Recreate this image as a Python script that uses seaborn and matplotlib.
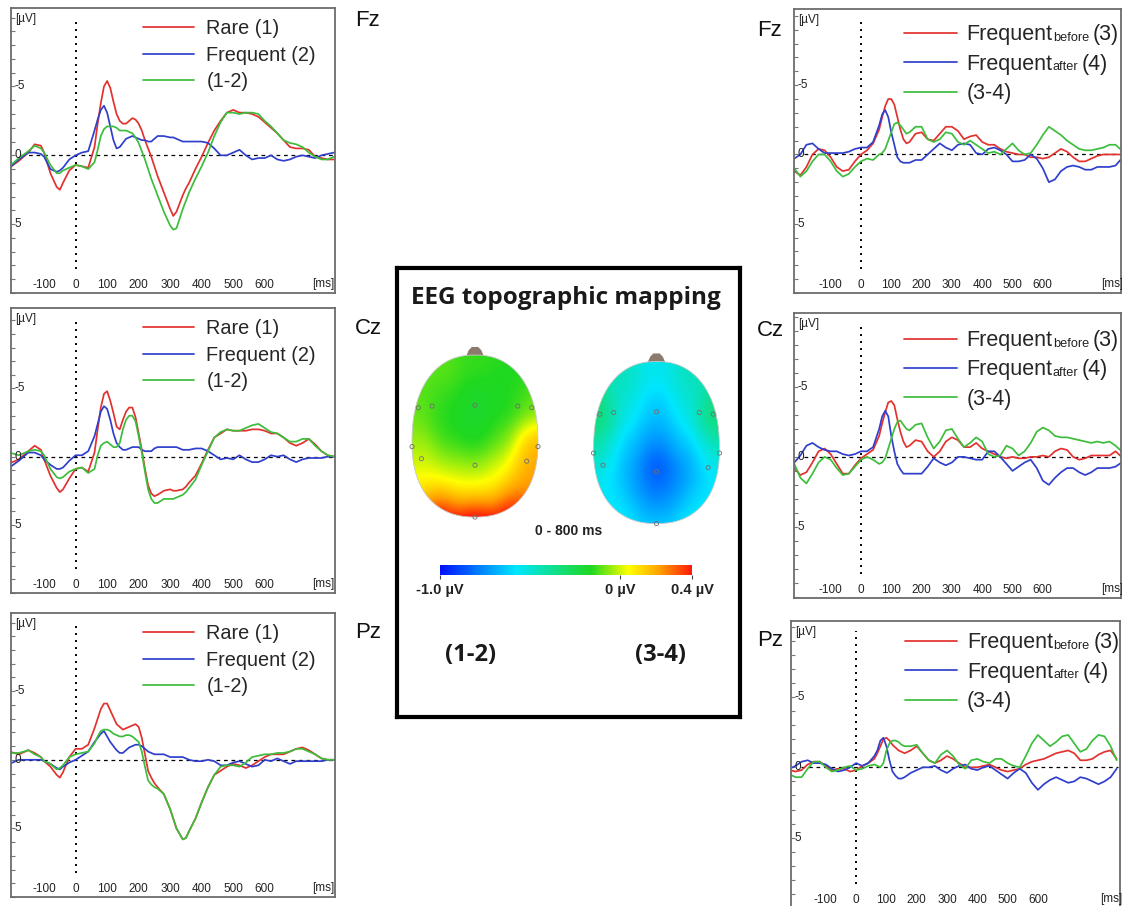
import numpy as np
import matplotlib
matplotlib.use("Agg")
import matplotlib.pyplot as plt
import matplotlib.transforms as mtransforms
from matplotlib.patches import Polygon
from matplotlib.colors import LinearSegmentedColormap
import seaborn as sns

# ---------------- data: time grids ----------------
T_LEFT = [-210, -180, -150, -130, -110, -100, -80, -60, -50, -40, -20, 0, 20, 40, 60, 70, 80, 90,
          100, 110, 120, 130, 140, 150, 160, 170, 180, 190, 200, 210, 220, 230, 240, 250, 260,
          280, 300, 310, 320, 340, 350, 360, 380, 400, 420, 440, 460, 480, 500, 520, 540, 560,
          580, 600, 620, 640, 660, 680, 700, 720, 740, 760, 780, 800, 820]
T_RIGHT = [-220, -200, -180, -160, -140, -120, -100, -80, -60, -40, -20, 0, 20, 40, 60, 70, 80, 90,
           100, 110, 120, 130, 140, 150, 160, 180, 200, 220, 240, 260, 280, 300, 320, 340, 360,
           380, 400, 420, 440, 460, 480, 500, 520, 540, 560, 580, 600, 620, 640, 660, 680, 700,
           720, 740, 760, 780, 800, 820, 840, 860]

# ---------------- left column: Rare (1), Frequent (2), (1-2) ----------------
FZ_RARE = [0.9, 0.4, -0.2, -0.8, -0.7, -0.2, 1.3, 2.3, 2.5, 2.0, 1.1, 0.7, 0.8, 0.9, -0.6, -2.3, -3.8, -5.0,
           -5.4, -4.9, -3.9, -3.0, -2.5, -2.3, -2.3, -2.5, -2.7, -2.6, -2.3, -1.8, -1.1, -0.5, 0.1, 0.8, 1.5,
           2.7, 3.9, 4.4, 4.1, 2.9, 2.4, 2.0, 1.0, 0.1, -0.9, -1.8, -2.5, -3.1, -3.3, -3.1, -3.1, -3.0,
           -2.8, -2.4, -2.0, -1.6, -1.1, -0.6, -0.5, -0.5, -0.4, 0.1, 0.2, 0.3, 0.3]
FZ_FREQ = [0.9, 0.3, -0.2, -0.2, -0.1, 0.1, 1.0, 1.2, 1.1, 0.9, 0.3, 0.0, -0.2, -0.3, -1.8, -2.6, -3.3, -3.6,
           -3.1, -2.1, -1.1, -0.5, -0.6, -0.9, -1.2, -1.3, -1.4, -1.3, -1.2, -1.1, -1.1, -1.0, -1.0, -1.2, -1.4,
           -1.4, -1.3, -1.3, -1.2, -1.0, -1.0, -1.0, -1.0, -1.0, -0.9, -0.5, 0.0, 0.0, -0.2, -0.4, 0.0, 0.3,
           0.2, 0.2, 0.0, 0.3, 0.4, 0.3, 0.1, 0.0, 0.1, 0.2, 0.0, -0.1, -0.2]
FZ_DIFF = [0.8, 0.2, -0.3, -0.7, -0.5, -0.2, 0.7, 1.3, 1.3, 1.1, 0.9, 0.7, 0.8, 1.0, 0.5, -0.4, -1.4, -1.9,
           -2.1, -2.1, -2.1, -2.0, -1.8, -1.8, -1.8, -1.7, -1.6, -1.3, -0.9, -0.3, 0.3, 1.0, 1.7, 2.3, 2.9,
           4.1, 5.1, 5.4, 5.3, 3.9, 3.3, 2.7, 1.7, 0.8, -0.2, -1.4, -2.4, -3.1, -3.1, -3.0, -3.1, -3.1,
           -3.0, -2.5, -2.1, -1.6, -1.1, -0.9, -0.8, -0.6, -0.2, 0.1, 0.3, 0.3, 0.1]

CZ_RARE = [0.5, 0.2, -0.4, -0.8, -0.5, 0.2, 1.4, 2.3, 2.6, 2.4, 1.6, 0.9, 0.8, 1.1, -0.3, -2.0, -3.6, -4.6,
           -4.8, -4.1, -3.2, -2.2, -2.0, -2.7, -3.3, -3.6, -3.6, -2.9, -1.7, -0.5, 0.9, 2.1, 2.7, 2.9, 2.8,
           2.5, 2.4, 2.5, 2.5, 2.4, 2.2, 1.9, 1.4, 0.5, -0.5, -1.4, -1.7, -2.0, -1.9, -1.9, -1.9, -2.0,
           -2.0, -1.9, -1.7, -1.7, -1.4, -1.0, -0.8, -1.0, -1.3, -0.9, -0.4, -0.1, 0.0]
CZ_FREQ = [0.8, 0.3, -0.3, -0.3, -0.1, 0.2, 0.6, 0.9, 0.9, 0.8, 0.3, -0.1, -0.1, -0.4, -1.5, -2.4, -3.3, -3.7,
           -3.5, -2.7, -1.7, -1.0, -0.7, -0.5, -0.5, -0.6, -0.7, -0.7, -0.7, -0.5, -0.4, -0.4, -0.4, -0.6, -0.7,
           -0.7, -0.7, -0.7, -0.7, -0.5, -0.5, -0.5, -0.6, -0.6, -0.4, -0.1, 0.2, 0.1, 0.2, -0.1, 0.2, 0.4,
           0.4, 0.2, -0.1, 0.0, -0.1, 0.2, 0.4, 0.2, 0.1, 0.1, 0.1, 0.0, 0.0]
CZ_DIFF = [-0.3, -0.1, -0.4, -0.5, -0.4, -0.1, 0.9, 1.5, 1.6, 1.5, 1.1, 0.9, 0.8, 1.2, 0.9, -0.1, -0.8, -1.0,
           -1.1, -0.9, -0.7, -0.7, -1.0, -2.0, -2.7, -3.0, -3.0, -2.6, -1.5, -0.3, 1.1, 2.4, 3.1, 3.4, 3.4,
           3.1, 3.1, 3.1, 3.0, 2.8, 2.6, 2.3, 1.7, 0.6, -0.4, -1.4, -1.8, -2.0, -1.9, -1.9, -2.1, -2.3,
           -2.4, -2.1, -1.8, -1.7, -1.4, -1.1, -1.1, -1.3, -1.3, -0.8, -0.4, -0.1, 0.0]

PZ_RARE = [-0.6, -0.4, -0.7, -0.5, -0.2, 0.1, 0.5, 1.1, 1.3, 0.9, -0.2, -0.8, -0.8, -1.1, -2.3, -3.0, -3.7, -4.1,
           -4.1, -3.6, -3.1, -2.6, -2.4, -2.2, -2.3, -2.4, -2.5, -2.6, -2.4, -1.6, -0.4, 0.8, 1.3, 1.7, 2.0,
           2.5, 3.6, 4.3, 5.0, 5.8, 5.7, 5.2, 4.3, 3.1, 2.0, 1.1, 0.8, 0.5, 0.3, 0.4, 0.6, 0.4,
           0.1, -0.2, -0.4, -0.4, -0.4, -0.6, -0.8, -0.9, -0.7, -0.4, -0.1, 0.0, 0.0]
PZ_FREQ = [0.3, 0.0, 0.0, 0.0, 0.0, 0.1, 0.3, 0.6, 0.7, 0.5, 0.2, 0.0, -0.3, -0.6, -1.3, -1.6, -1.9, -2.1,
           -1.7, -1.3, -1.0, -0.7, -0.5, -0.5, -0.7, -0.9, -1.0, -1.1, -1.1, -1.0, -0.8, -0.6, -0.5, -0.4, -0.4,
           -0.4, -0.2, -0.2, -0.2, -0.2, -0.1, 0.0, 0.1, 0.1, 0.0, 0.1, 0.4, 0.4, 0.2, 0.1, 0.3, 0.5,
           0.4, 0.0, 0.1, -0.1, 0.1, 0.3, 0.1, 0.1, 0.1, 0.1, 0.1, 0.0, 0.0]
PZ_DIFF = [-0.5, -0.5, -0.7, -0.4, -0.2, 0.1, 0.3, 0.7, 0.6, 0.4, -0.2, -0.4, -0.5, -0.6, -1.2, -1.7, -2.1, -2.2,
           -2.2, -2.1, -1.9, -1.8, -1.7, -1.7, -1.8, -1.8, -1.7, -1.5, -1.3, -0.6, 0.5, 1.5, 1.8, 2.0, 2.1,
           2.5, 3.6, 4.3, 5.0, 5.8, 5.7, 5.2, 4.3, 3.1, 2.0, 1.1, 0.5, 0.4, 0.4, 0.5, 0.2, -0.2,
           -0.3, -0.4, -0.4, -0.5, -0.5, -0.6, -0.8, -0.8, -0.6, -0.4, -0.1, 0.0, 0.0]

# ---------------- right column: Frequent before (3), after (4), (3-4) ----------------
FZ_BEFORE = [1.2, 1.5, 0.9, 0.0, -0.4, -0.3, 0.2, 0.9, 1.2, 1.1, 0.5, 0.0, -0.3, -0.8, -1.8, -2.7, -3.5, -4.0,
             -4.0, -3.6, -2.7, -1.8, -1.1, -0.8, -0.9, -1.5, -1.6, -1.1, -1.0, -1.5, -2.0, -2.0, -1.7, -1.1, -1.3,
             -1.4, -0.9, -0.7, -0.7, -0.4, -0.2, -0.1, 0.0, 0.0, 0.2, 0.2, 0.3, 0.2, -0.1, -0.4, -0.2, 0.2,
             0.5, 0.5, 0.3, 0.1, 0.0, 0.0, 0.0, 0.0]
FZ_AFTER = [0.3, 0.0, -0.7, -0.8, -0.4, -0.1, -0.1, -0.1, -0.1, -0.2, -0.4, -0.5, -0.5, -0.9, -2.1, -2.9, -3.2, -2.7,
            -1.6, -0.7, 0.2, 0.5, 0.6, 0.6, 0.6, 0.4, 0.4, 0.0, -0.4, -0.8, -0.5, -0.3, -0.7, -0.8, -0.7,
            -0.1, 0.0, -0.4, -0.5, -0.3, 0.0, 0.5, 0.5, 0.4, 0.0, 0.3, 1.0, 2.0, 1.8, 1.2, 0.9, 0.8,
            0.9, 1.1, 1.1, 0.9, 0.9, 0.9, 0.8, 0.3]
FZ_DIFF34 = [1.0, 1.6, 1.2, 0.5, 0.0, 0.0, 0.5, 1.2, 1.6, 1.4, 0.9, 0.5, 0.3, 0.4, 0.0, -0.1, -0.4, -1.0,
             -1.6, -2.2, -2.3, -2.1, -1.8, -1.5, -1.6, -2.0, -2.0, -1.1, -0.9, -1.1, -1.6, -1.5, -0.9, -0.7, -1.0,
             -0.7, -0.4, -0.1, -0.2, 0.0, -0.4, -0.8, -0.3, 0.0, -0.1, -0.7, -1.4, -2.0, -1.7, -1.4, -1.0, -0.7,
             -0.4, -0.3, -0.3, -0.4, -0.5, -0.7, -0.7, -0.3]

CZ_BEFORE = [0.8, 1.3, 1.1, 0.4, -0.4, -0.6, -0.2, 0.5, 1.2, 1.2, 0.6, 0.1, -0.2, -0.5, -1.5, -2.4, -3.2, -3.9,
             -4.0, -3.7, -2.7, -1.8, -1.1, -0.7, -0.8, -1.2, -1.1, -0.4, 0.0, -0.4, -1.1, -1.4, -1.2, -0.7, -0.7,
             -1.0, -0.6, -0.4, -0.2, 0.0, 0.1, 0.0, 0.1, 0.1, 0.0, 0.0, -0.1, 0.0, -0.4, -0.6, -0.5, 0.0,
             0.2, 0.1, -0.1, -0.1, -0.1, -0.1, -0.4, 0.0]
CZ_AFTER = [0.4, -0.1, -0.8, -1.0, -0.7, -0.5, -0.4, -0.4, -0.2, -0.1, -0.2, -0.4, -0.4, -0.7, -2.0, -2.9, -3.3, -2.9,
            -1.5, -0.4, 0.5, 0.9, 1.2, 1.2, 1.2, 1.2, 1.2, 0.7, 0.1, 0.4, 0.6, 0.4, 0.0, 0.0, 0.1,
            0.2, 0.2, -0.4, -0.4, 0.0, 0.5, 1.0, 0.7, 0.4, 0.2, 0.8, 1.7, 2.0, 1.5, 1.1, 0.8, 0.8,
            1.1, 1.3, 1.1, 0.8, 0.8, 0.8, 0.7, 0.4]
CZ_DIFF34 = [0.5, 1.5, 1.9, 1.2, 0.4, 0.0, 0.2, 0.8, 1.3, 1.2, 0.7, 0.2, 0.0, 0.2, 0.5, 0.4, 0.1, -0.6,
             -1.3, -2.0, -2.5, -2.6, -2.3, -2.0, -1.9, -2.3, -2.4, -1.4, -0.6, -1.1, -1.9, -2.0, -1.3, -0.7, -1.0,
             -1.4, -1.1, -0.2, 0.0, -0.1, -0.8, -0.6, -0.1, -0.4, -1.0, -1.8, -2.1, -1.9, -1.5, -1.4, -1.4, -1.3,
             -1.2, -1.1, -1.0, -1.1, -1.0, -1.1, -0.8, -0.4]

PZ_BEFORE = [0.2, 0.3, 0.2, -0.2, -0.4, -0.4, -0.1, 0.2, 0.1, 0.1, 0.3, 0.2, -0.1, -0.3, -0.6, -1.0, -1.5, -2.0,
             -2.1, -1.9, -1.6, -1.4, -1.2, -1.1, -1.0, -1.2, -1.5, -1.0, -0.5, -0.3, -0.5, -0.8, -0.6, -0.3, 0.0,
             0.0, 0.0, -0.1, -0.2, 0.0, 0.2, 0.3, 0.2, 0.1, -0.2, -0.4, -0.5, -0.6, -0.8, -1.0, -1.1, -1.2,
             -1.0, -0.5, -0.5, -0.6, -0.9, -1.1, -1.2, -0.6]
PZ_AFTER = [0.1, -0.1, -0.4, -0.5, -0.3, -0.3, -0.2, 0.1, 0.3, 0.2, 0.0, -0.3, -0.1, -0.3, -0.8, -1.2, -1.9, -2.1,
            -1.5, -0.5, 0.3, 0.6, 0.8, 0.8, 0.7, 0.4, 0.2, 0.0, 0.0, -0.1, 0.2, 0.4, 0.1, -0.1, -0.2,
            0.1, 0.2, 0.0, -0.1, 0.2, 0.5, 0.8, 0.4, 0.1, 0.4, 1.1, 1.6, 1.2, 0.9, 0.7, 0.9, 1.1,
            1.0, 0.7, 0.8, 1.0, 1.2, 1.0, 0.7, 0.1]
PZ_DIFF34 = [0.5, 0.7, 0.7, 0.1, -0.4, -0.4, 0.0, 0.3, 0.2, 0.0, -0.1, 0.2, 0.1, -0.1, -0.2, -0.1, 0.0, -0.3,
             -1.2, -1.7, -1.9, -1.9, -1.8, -1.6, -1.5, -1.5, -1.6, -1.0, -0.5, -0.3, -0.9, -1.2, -0.8, -0.2, 0.1,
             -0.5, -0.6, -0.4, -0.3, -0.6, -0.6, -0.3, -0.1, 0.0, -0.8, -1.7, -2.3, -1.9, -1.5, -1.8, -2.2, -2.3,
             -1.7, -1.1, -1.3, -1.9, -2.3, -2.2, -1.5, -0.5]

LABELS_LEFT = ["Rare (1)", "Frequent (2)", "(1-2)"]
LABELS_RIGHT = ["Frequent", "Frequent", "(3-4)"]
LABELS_RIGHT_SUB = ["before", "after"]
LABELS_RIGHT_TAIL = ["(3)", "(4)"]
ELECTRODES = ["Fz", "Cz", "Pz"]
X_TICKS = [-100, 0, 100, 200, 300, 400, 500, 600]
Y_LABEL_TICKS = [-5, 0, 5]

# topographic map samples (0 - 800 ms mean amplitude, µV), head coords x: left-right, y: back-front
TOPO_X = [0.0, -0.55, 0.55, -0.9, -0.45, 0.0, 0.45, 0.9, -0.95, -0.45, 0.0, 0.45, 0.95,
          -0.85, -0.45, 0.0, 0.45, 0.85, -0.75, -0.3, 0.0, 0.3, 0.75, -0.55, 0.0, 0.55]
TOPO_Y = [0.9, 0.75, 0.75, 0.35, 0.4, 0.4, 0.4, 0.35, -0.1, -0.05, 0.0, -0.05, -0.1,
          -0.35, -0.38, -0.38, -0.38, -0.35, -0.62, -0.6, -0.65, -0.6, -0.62, -0.9, -0.97, -0.9]
TOPO_12 = [-0.14, -0.10, -0.16, -0.10, -0.16, -0.19, -0.17, -0.10, -0.06, -0.16, -0.19, -0.12, 0.16,
           0.03, -0.06, -0.12, 0.00, 0.24, 0.08, 0.06, 0.05, 0.08, 0.22, 0.48, 0.55, 0.48]
TOPO_34 = [-0.55, -0.45, -0.45, -0.30, -0.55, -0.65, -0.55, -0.30, -0.40, -0.62, -0.75, -0.62, -0.42,
           -0.55, -0.72, -0.97, -0.78, -0.60, -0.56, -0.68, -0.80, -0.70, -0.56, -0.55, -0.60, -0.55]
DOT_X = [-0.9, -0.68, 0.0, 0.68, 0.9, -1.0, 1.0, -0.85, 0.0, 0.82, 0.0]
DOT_Y = [0.35, 0.37, 0.38, 0.37, 0.35, -0.13, -0.13, -0.28, -0.36, -0.31, -1.0]

RED, BLUE, GREEN = "#e2312e", "#2f3fcc", "#3cbd3c"
COLORS = [RED, BLUE, GREEN]

sns.set_theme(style="white")
plt.rcParams["font.family"] = ["Liberation Sans", "DejaVu Sans"]

W, H = 1122, 906
fig = plt.figure(figsize=(W / 100, H / 100), dpi=100)


def px_rect(x0, y0, x1, y1):
    return [x0 / W, 1 - y1 / H, (x1 - x0) / W, (y1 - y0) / H]


def erp_panel(rect, t, series, labels, xlim, ylim, ms_x):
    ax = fig.add_axes(rect)
    for vals, lab, col in zip(series, labels, COLORS):
        sns.lineplot(x=t, y=vals, ax=ax, color=col, lw=1.25, label=lab, estimator=None, sort=False)
    ax.set_xlim(*xlim)
    ax.set_ylim(*ylim)
    ax.set_xlabel("")
    ax.set_ylabel("")
    for sp in ax.spines.values():
        sp.set_color("#6c6c6c")
        sp.set_linewidth(1.3)
    ax.set_xticks(X_TICKS)
    ax.set_xticklabels([str(v) for v in X_TICKS])
    ax.tick_params(axis="x", length=0, pad=-10, labelsize=8.5, labelcolor="#222222")
    ax.set_yticks(list(range(-10, 11)))
    ax.tick_params(axis="y", direction="in", length=3, width=0.8, color="#777777", labelleft=False, left=True)
    ax.axhline(0, color="black", lw=0.9, ls=(0, (3, 3)), xmin=0.03, xmax=0.995, zorder=1)
    ax.axvline(0, color="black", lw=1.4, ls=(0, (1, 2.6)), ymin=0.085, ymax=0.965, zorder=1)
    tr = mtransforms.blended_transform_factory(ax.transAxes, ax.transData)
    for v in Y_LABEL_TICKS:
        ax.text(0.01, v, str(v), transform=tr, ha="left", va="center", fontsize=8.5, color="#222222")
    ax.text(0.012, 0.963, "[µV]", transform=ax.transAxes, ha="left", va="center", fontsize=8.5, color="#222222")
    ax.text(ms_x, 0.03, "[ms]", transform=ax.transAxes, ha="center", va="center", fontsize=8.5, color="#222222")
    return ax


LEFT_X = (-205, 823)
RIGHT_X = (-221, 858)

left_rects = [px_rect(11, 8, 335, 293), px_rect(11, 308, 335, 593), px_rect(11, 613, 335, 897)]
left_ylims = [(9.6, -10.7), (9.4, -10.9), (9.2, -10.7)]
left_series = [(FZ_RARE, FZ_FREQ, FZ_DIFF), (CZ_RARE, CZ_FREQ, CZ_DIFF), (PZ_RARE, PZ_FREQ, PZ_DIFF)]
left_lab_y = [20, 328, 633]

for rect, yl, ser, ly, name in zip(left_rects, left_ylims, left_series, left_lab_y, ELECTRODES):
    ax = erp_panel(rect, T_LEFT, ser, LABELS_LEFT, LEFT_X, yl, 0.963)
    h, l = ax.get_legend_handles_labels()
    ax.legend(h, l, loc="upper left", bbox_to_anchor=(0.407, 0.962), frameon=False, fontsize=14.3,
              handlelength=2.55, handletextpad=0.65, labelspacing=0.39, borderpad=0, borderaxespad=0)
    fig.text(355 / W, 1 - ly / H, name, fontsize=16, ha="left", va="center", color="#111111")

right_rects = [px_rect(794, 9, 1121, 293), px_rect(794, 313, 1121, 598), px_rect(791, 621, 1120, 908)]
right_ylims = [(9.8, -10.5), (10.1, -10.3), (10.0, -10.4)]
right_xlims = [RIGHT_X, RIGHT_X, (-215, 871)]
right_series = [(FZ_BEFORE, FZ_AFTER, FZ_DIFF34), (CZ_BEFORE, CZ_AFTER, CZ_DIFF34),
                (PZ_BEFORE, PZ_AFTER, PZ_DIFF34)]
right_lab_y = [30, 330, 641]
right_leg_anchor = [(0.336, 0.946), (0.336, 0.94), (0.345, 0.96)]

for rect, yl, xl, ser, ly, name, anc in zip(right_rects, right_ylims, right_xlims, right_series,
                                            right_lab_y, ELECTRODES, right_leg_anchor):
    ax = erp_panel(rect, T_RIGHT, ser, LABELS_RIGHT, xl, yl, 0.972)
    h, l = ax.get_legend_handles_labels()
    leg = ax.legend(h, l, loc="upper left", bbox_to_anchor=anc, frameon=False, fontsize=15.5,
                    handlelength=2.45, handletextpad=0.45, labelspacing=0.39, borderpad=0, borderaxespad=0)
    for txt, sub, tail in zip(leg.get_texts()[:2], LABELS_RIGHT_SUB, LABELS_RIGHT_TAIL):
        a1 = ax.annotate(sub, xy=(1, 0), xycoords=txt, xytext=(0.3, 1.0), textcoords="offset points",
                         va="bottom", ha="left", fontsize=9.2, color="#222222", zorder=6,
                         annotation_clip=False)
        ax.annotate(tail, xy=(1, 0), xycoords=a1, xytext=(2.6, -1.0), textcoords="offset points",
                    va="bottom", ha="left", fontsize=15.5, color="#222222", zorder=7,
                    annotation_clip=False)
    fig.text(757 / W, 1 - ly / H, name, fontsize=16, ha="left", va="center", color="#111111")

# ---------------- central topographic box ----------------
box = fig.add_axes(px_rect(397, 268, 740, 717))
box.set_xticks([])
box.set_yticks([])
for sp in box.spines.values():
    sp.set_color("black")
    sp.set_linewidth(3)
box.set_facecolor("white")
box.text(0.493, 0.933, "EEG topographic mapping", transform=box.transAxes, ha="center", va="center",
         fontsize=17.5, fontweight="bold", family=["Open Sans", "DejaVu Sans"], color="#1a1a1a")
box.text(0.5, 0.414, "0 - 800 ms", transform=box.transAxes, ha="center", va="center",
         fontsize=10, fontweight="bold", color="#222222")
box.text(0.215, 0.138, "(1-2)", transform=box.transAxes, ha="center", va="center",
         fontsize=17, fontweight="bold", family=["Open Sans", "DejaVu Sans"], color="#1a1a1a")
box.text(0.767, 0.138, "(3-4)", transform=box.transAxes, ha="center", va="center",
         fontsize=17, fontweight="bold", family=["Open Sans", "DejaVu Sans"], color="#1a1a1a")

cmap = LinearSegmentedColormap.from_list(
    "topo", [(0.0, "#0010ff"), (0.3, "#00e6ff"), (0.6, "#1fd81f"), (0.75, "#ffff00"),
             (0.88, "#ff9a00"), (1.0, "#ff1a0a")])

theta = np.linspace(0, 2 * np.pi, 400)
ce, se = np.cos(theta), np.sin(theta)
n_exp = 2.3
hx = np.sign(ce) * np.abs(ce) ** (2 / n_exp)
hy = np.sign(se) * np.abs(se) ** (2 / n_exp)
hx = hx * (0.96 - 0.04 * hy)
HEAD_XY = np.column_stack([hx / np.abs(hx).max(), hy])

gx = np.linspace(-1.05, 1.05, 220)
gy = np.linspace(-1.05, 1.05, 240)
GX, GY = np.meshgrid(gx, gy)


def topo(rect, values):
    hax = fig.add_axes(rect)
    hax.set_xlim(-1.1, 1.1)
    hax.set_ylim(-1.05, 1.15)
    hax.axis("off")
    px = np.array(TOPO_X)[:, None, None]
    py = np.array(TOPO_Y)[:, None, None]
    d2 = (GX[None] - px) ** 2 + (GY[None] - py) ** 2
    w = np.exp(-d2 / (2 * 0.22 ** 2)) + 1e-9
    Z = (w * np.array(values)[:, None, None]).sum(0) / w.sum(0)
    hax.add_patch(Polygon([[-0.15, 0.97], [-0.1, 1.06], [-0.05, 1.1], [0.05, 1.1], [0.1, 1.06], [0.15, 0.97]],
                          closed=True, facecolor="#8c7a6c", edgecolor="none", zorder=1))
    head = Polygon(HEAD_XY, closed=True, facecolor="none", edgecolor="#c8c8c8", lw=0.6, zorder=3)
    im = hax.imshow(Z, extent=(-1.05, 1.05, -1.05, 1.05), origin="lower", cmap=cmap, vmin=-1.0, vmax=0.4,
                    aspect="auto", interpolation="bilinear", zorder=2)
    hax.add_patch(head)
    im.set_clip_path(head)
    hax.scatter(DOT_X, DOT_Y, s=9, facecolors="none", edgecolors="#6f6f6f", linewidths=0.6, zorder=4)


topo(px_rect(405.7, 342.9, 544.3, 521.1), TOPO_12)
topo(px_rect(587.2, 349.4, 725.8, 527.6), TOPO_34)

cax = fig.add_axes(px_rect(440, 565, 692, 575))
sm = plt.cm.ScalarMappable(cmap=cmap, norm=plt.Normalize(-1.0, 0.4))
cb = fig.colorbar(sm, cax=cax, orientation="horizontal", ticks=[-1.0, 0.0, 0.4])
cb.outline.set_visible(False)
cb.ax.set_xticklabels(["-1.0 µV", "0 µV", "0.4 µV"])
cb.ax.tick_params(axis="x", length=3, width=0.8, color="#444444", labelsize=10.5, pad=3)
for lbl in cb.ax.get_xticklabels():
    lbl.set_fontweight("bold")
    lbl.set_color("#222222")

fig.canvas.draw()
fig.savefig("out.png", dpi=100)
